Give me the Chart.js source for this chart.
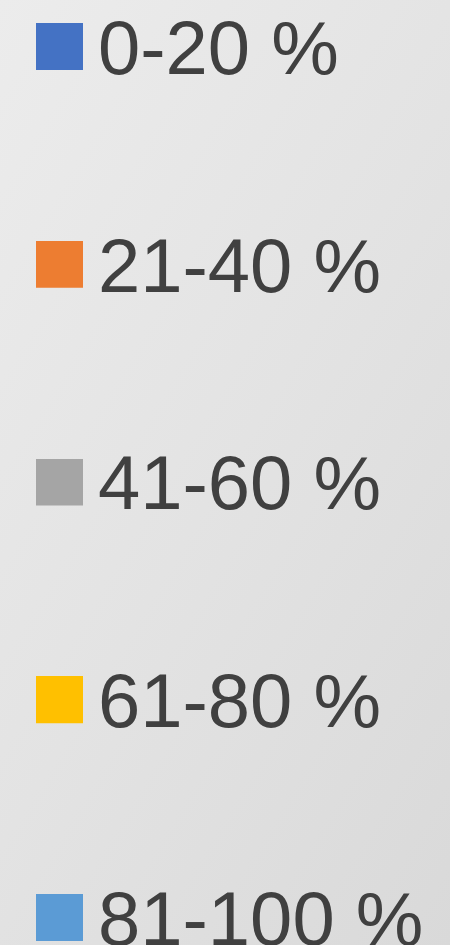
<!DOCTYPE html>
<html>
<head>
<meta charset="utf-8">
<script src="https://cdn.jsdelivr.net/npm/chart.js@4"></script>
<style>
  html, body { margin: 0; padding: 0; }
  body {
    width: 450px;
    height: 945px;
    overflow: hidden;
    background: linear-gradient(121deg, #ececec 0%, #e3e3e3 50%, #d9d9d9 100%);
  }
  #wrap { position: relative; width: 450px; height: 1200px; margin-top: -44px; }
</style>
</head>
<body>
<div id="wrap"><canvas id="legend-chart"></canvas></div>
<script>
const ranges = ['0-20 %', '21-40 %', '41-60 %', '61-80 %', '81-100 %'];
const rangeColors = ['#4472C4', '#ED7D31', '#A5A5A5', '#FFC000', '#5B9BD5'];
const textColor = '#404040';

// square swatch for the legend marker; extra room below so the
// square sits a little higher than the text middle, like Excel does
function swatch(color) {
    const c = document.createElement('canvas');
    c.width = 47; c.height = 60;
    const g = c.getContext('2d');
    g.fillStyle = color;
    g.fillRect(0, 0, 47, 47);
    return c;
}

const datasets = ranges.map((r, i) => ({
    label: r,
    data: [],
    backgroundColor: rangeColors[i],
    borderWidth: 0
}));

const ctx = document.getElementById('legend-chart').getContext('2d');

new Chart(ctx, {
    type: 'bar',
    data: { labels: [], datasets: datasets },
    options: {
        responsive: true,
        maintainAspectRatio: false,
        animation: { duration: 0 },
        scales: {
            x: { display: false },
            y: { display: false }
        },
        plugins: {
            tooltip: { enabled: false },
            legend: {
                position: 'left',
                align: 'start',
                maxWidth: 450,
                labels: {
                    usePointStyle: true,
                    boxWidth: 1,
                    padding: 59,
                    color: textColor,
                    font: { family: 'Liberation Sans', size: 76, lineHeight: '158.75px' },
                    generateLabels: chart => chart.data.datasets.map((ds, i) => ({
                        text: [ds.label],
                        fillStyle: ds.backgroundColor,
                        strokeStyle: ds.backgroundColor,
                        lineWidth: 0,
                        pointStyle: swatch(ds.backgroundColor),
                        fontColor: textColor,
                        hidden: false,
                        datasetIndex: i
                    }))
                }
            }
        }
    }
});
</script>
</body>
</html>
